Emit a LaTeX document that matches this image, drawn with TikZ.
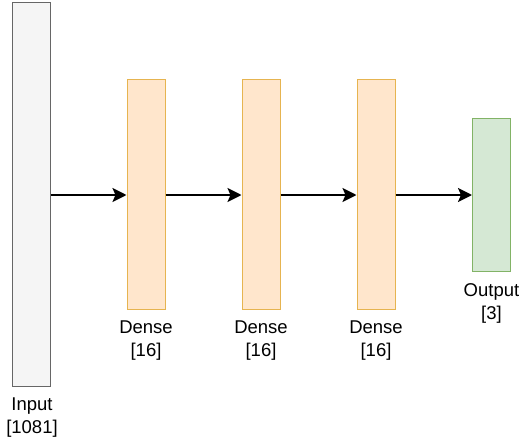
\documentclass[tikz,border=0pt]{standalone}
\usepackage{fontspec}
\setmainfont{Liberation Sans}
\usetikzlibrary{arrows.meta}
\definecolor{grayfill}{HTML}{F5F5F5}
\definecolor{graydraw}{HTML}{666666}
\definecolor{orangefill}{HTML}{FFE6CC}
\definecolor{orangedraw}{HTML}{E6B450}
\definecolor{greenfill}{HTML}{D5E8D4}
\definecolor{greendraw}{HTML}{82B366}
\tikzset{
  layer/.style={draw, line width=1pt, minimum width=38pt, inner sep=0pt},
  inlayer/.style={layer, fill=grayfill, draw=graydraw, minimum height=383pt},
  denselayer/.style={layer, fill=orangefill, draw=orangedraw, minimum height=229pt},
  outlayer/.style={layer, fill=greenfill, draw=greendraw, minimum height=153pt},
  lbl/.style={align=center, font=\fontsize{18.5}{23}\selectfont, inner sep=0pt, anchor=north},
  flow/.style={line width=2.2pt, -{Stealth[length=14pt,width=14pt,inset=3pt]}}
}
\begin{document}
\begin{tikzpicture}[x=1pt,y=-1pt]
\useasboundingbox (0,0) rectangle (521,441);
% layers
\node[inlayer] (in) at (31.5,194.5) {};
\node[denselayer] (d1) at (146,194.5) {};
\node[denselayer] (d2) at (261,194.5) {};
\node[denselayer] (d3) at (376,194.5) {};
\node[outlayer] (out) at (491.5,195) {};
% labels
\node[lbl] (lin) at (32,398) {Input\\{[1081]}};
\node[lbl] (l1) at (146,321) {Dense\\{[16]}};
\node[lbl] (l2) at (261,321) {Dense\\{[16]}};
\node[lbl] (l3) at (376,321) {Dense\\{[16]}};
\node[lbl] (lout) at (491.5,283) {Output\\{[3]}};
% connections
\draw[flow] (in.east |- 0,195) -- (d1.west |- 0,195);
\draw[flow] (d1.east |- 0,195) -- (d2.west |- 0,195);
\draw[flow] (d2.east |- 0,195) -- (d3.west |- 0,195);
\draw[flow] (d3.east |- 0,195) -- (out.west |- 0,195);
\end{tikzpicture}
\end{document}
